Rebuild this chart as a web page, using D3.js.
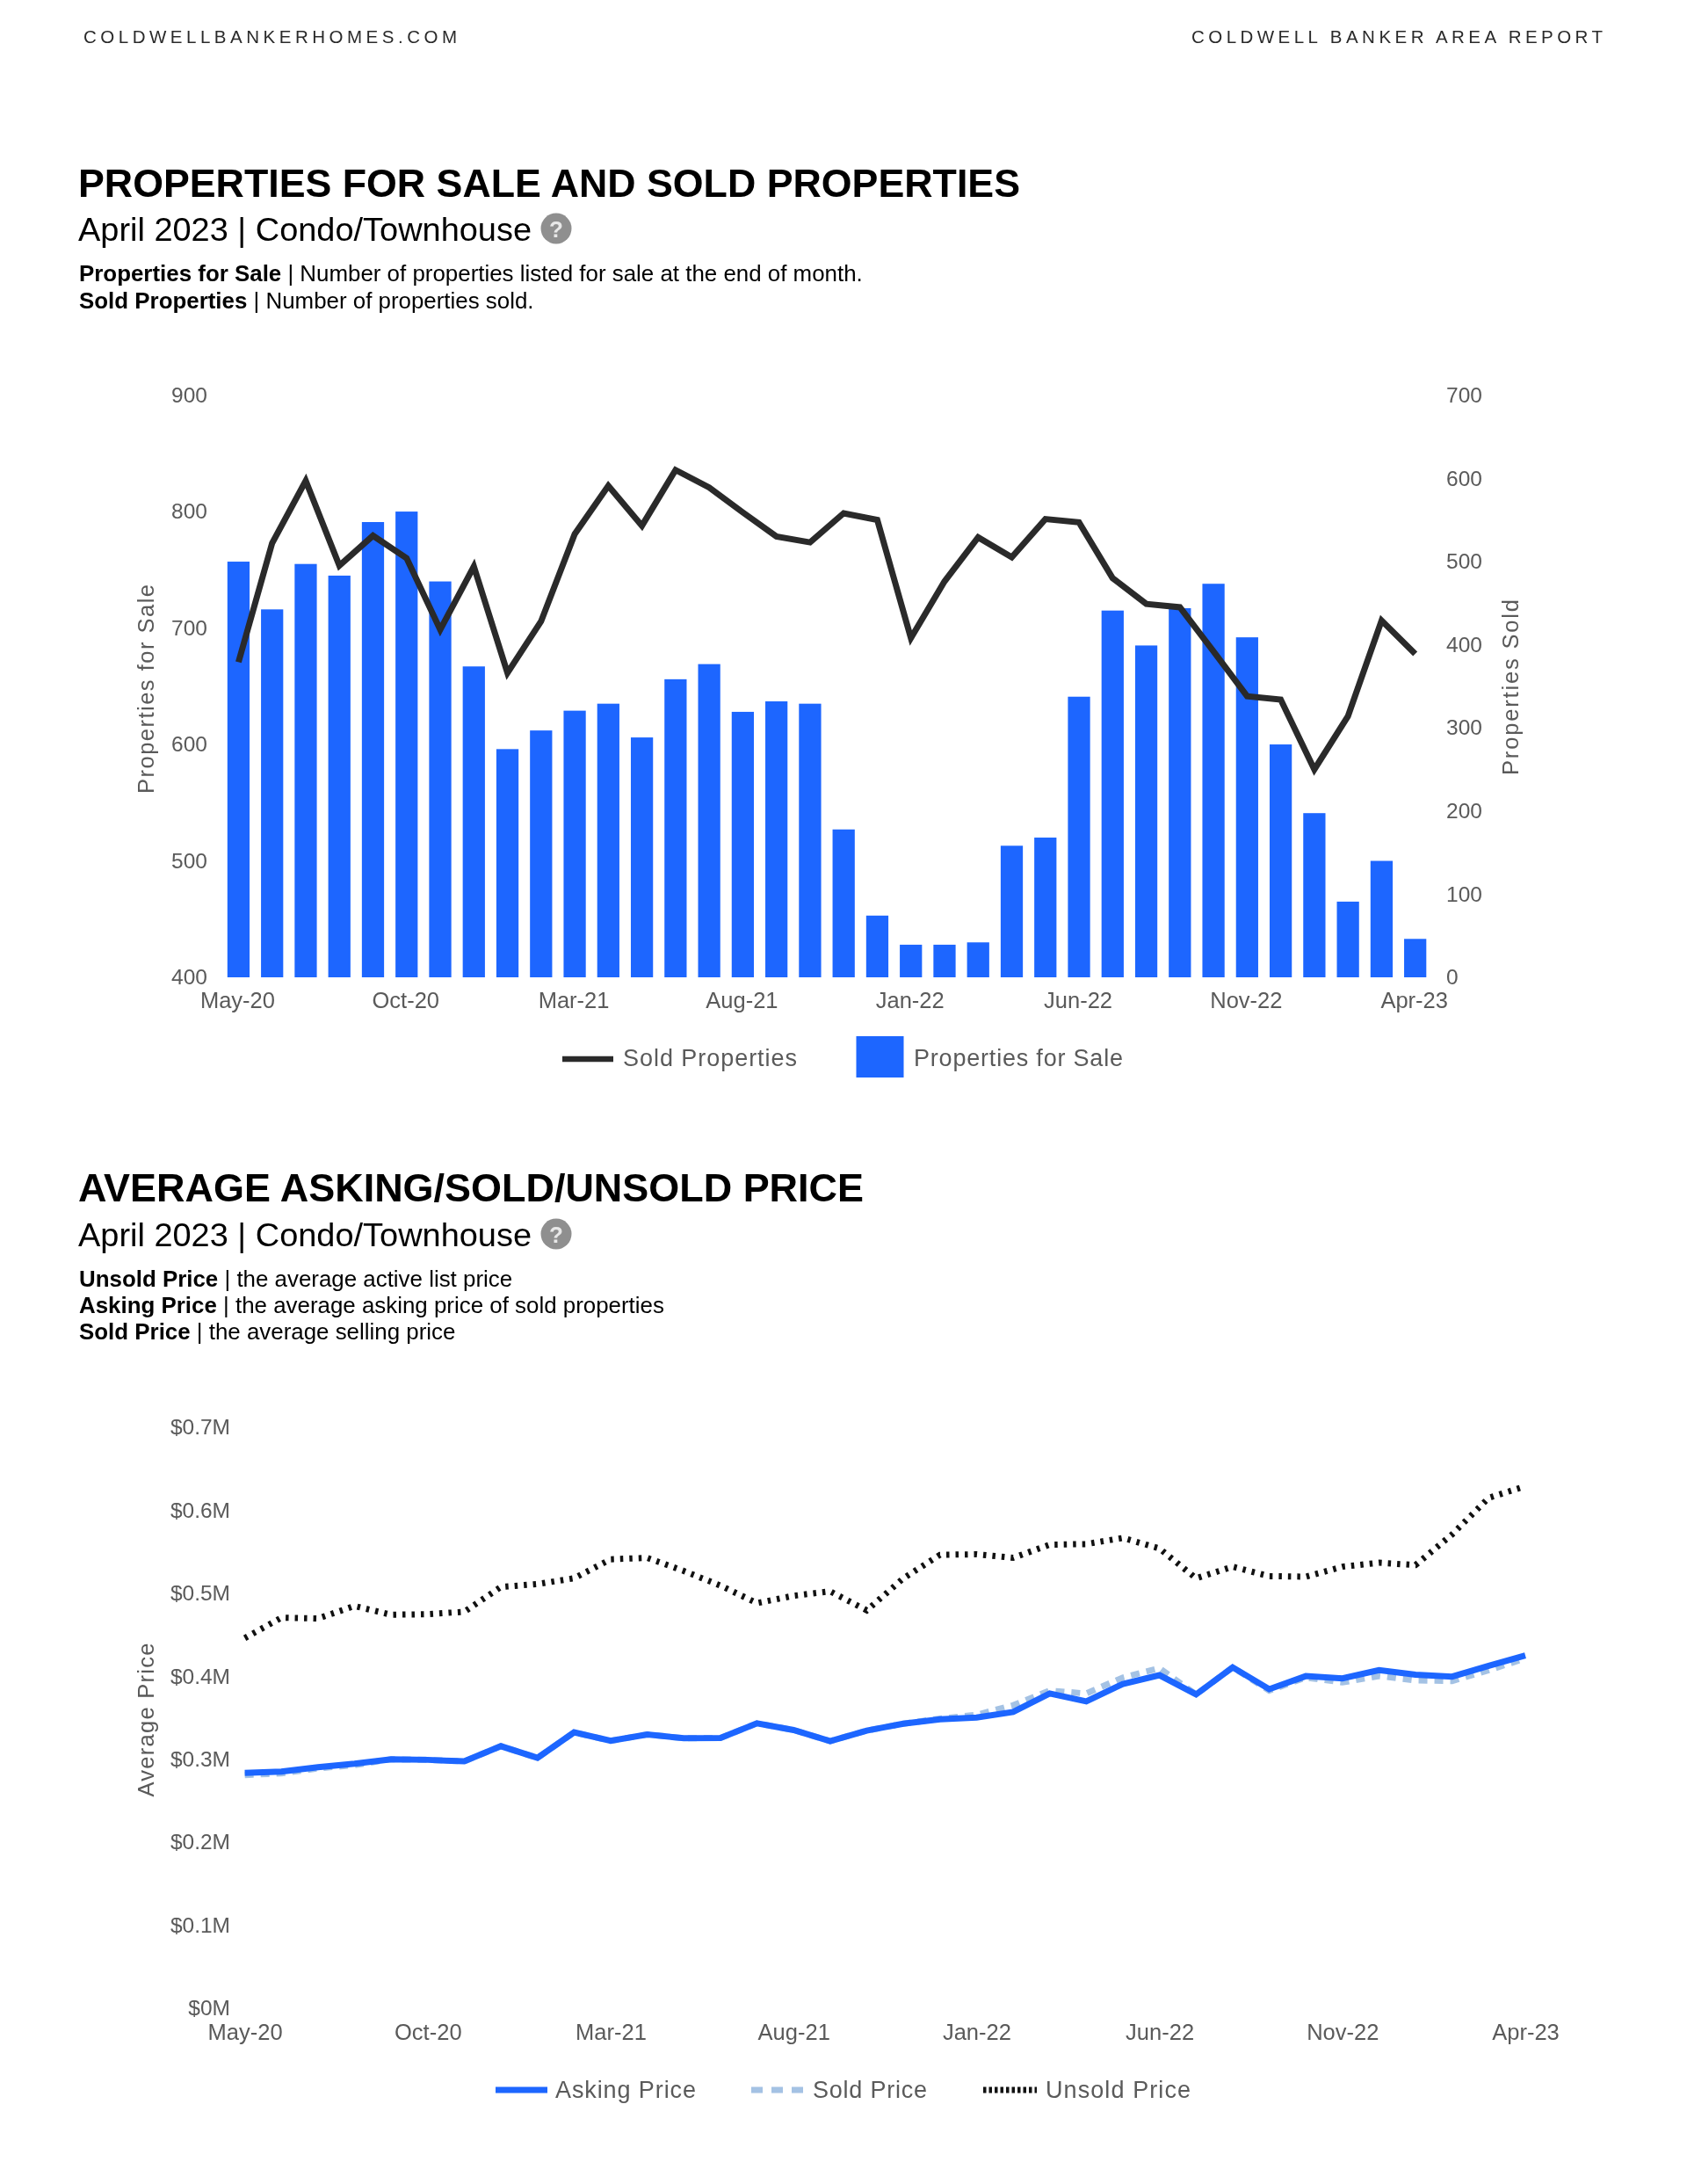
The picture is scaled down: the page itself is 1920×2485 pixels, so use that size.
<!DOCTYPE html>
<html><head><meta charset="utf-8">
<script src="https://cdn.jsdelivr.net/npm/d3@7"></script>
<style>
html,body{margin:0;padding:0;background:#fff}
svg{display:block;filter:blur(0.4px)}
text{font-family:"Liberation Sans",Arial,sans-serif}
.tick text{fill:#5a5a5a;font-size:24.5px}
.xaxis .tick text{font-size:25.5px}
</style></head><body>
<svg id="c" width="1920" height="2485"></svg>
<script>
const months=["May-20","Jun-20","Jul-20","Aug-20","Sep-20","Oct-20","Nov-20","Dec-20","Jan-21","Feb-21","Mar-21","Apr-21","May-21","Jun-21","Jul-21","Aug-21","Sep-21","Oct-21","Nov-21","Dec-21","Jan-22","Feb-22","Mar-22","Apr-22","May-22","Jun-22","Jul-22","Aug-22","Sep-22","Oct-22","Nov-22","Dec-22","Jan-23","Feb-23","Mar-23","Apr-23"];
const tickMonths=["May-20","Oct-20","Mar-21","Aug-21","Jan-22","Jun-22","Nov-22","Apr-23"];
const propertiesForSale=[757,716,755,745,791,800,740,667,596,612,629,635,606,656,669,628,637,635,527,453,428,428,430,513,520,641,715,685,717,738,692,600,541,465,500,433];
const soldProperties=[379,522,597,495,531,504,418,494,366,428,533,591,543,610,589,559,530,523,558,550,408,476,529,505,551,547,480,449,445,392,338,334,250,314,429,389];
const askingPrice=[.2835,.2852,.2905,.2947,.3,.2993,.2975,.3158,.3017,.3324,.3222,.3299,.3253,.3257,.3433,.3352,.3218,.3345,.3429,.3482,.3503,.357,.3792,.3697,.3908,.4013,.3781,.4108,.3844,.4002,.3974,.4073,.402,.3996,.4126,.425];
const soldPrice=[.281,.283,.289,.293,.3,.2993,.2975,.3158,.3017,.3324,.3222,.3299,.3253,.3257,.3433,.3352,.3218,.3345,.3429,.349,.3535,.365,.3827,.3792,.3985,.4098,.378,.4108,.3827,.3985,.3926,.4003,.395,.3943,.4073,.4215];
const unsoldPrice=[.446,.4706,.4696,.4847,.4741,.4748,.4777,.5076,.5111,.5181,.541,.5427,.5269,.5093,.4882,.497,.5023,.4794,.518,.5463,.547,.5427,.5586,.5593,.5667,.554,.518,.532,.5206,.52,.532,.5368,.534,.571,.615,.629];
const leftTicks=[400,500,600,700,800,900];
const rightTicks=[0,100,200,300,400,500,600,700];
const priceTicks=[0,.1,.2,.3,.4,.5,.6,.7];

const BLUE="#1d66ff",GREY="#5a5a5a";
const svg=d3.select("#c");
function txt(x,y,s,o={}){
  const t=svg.append("text").attr("x",x).attr("y",y).attr("dominant-baseline","central").text(s)
    .attr("font-size",o.size||24).attr("fill",o.fill||"#000").attr("font-weight",o.bold?"bold":null);
  if(o.len)t.attr("textLength",o.len).attr("lengthAdjust",o.adj||"spacing");
  if(o.rot!=null)t.attr("text-anchor","middle").attr("transform",`rotate(${o.rot} ${x} ${y})`);
  return t;
}
function desc(y,b,r){
  const t=svg.append("text").attr("x",90).attr("y",y).attr("dominant-baseline","central").attr("font-size",25.9);
  t.append("tspan").attr("font-weight","bold").text(b);
  t.append("tspan").text(" | "+r);
}
function help(x,y){
  svg.append("circle").attr("cx",x).attr("cy",y).attr("r",17.5).attr("fill","#8f8f8f");
  svg.append("text").attr("x",x).attr("y",y+1).attr("text-anchor","middle").attr("dominant-baseline","central")
    .attr("font-size",26).attr("font-weight","bold").attr("fill","#e8e8e8").text("?");
}
// header
txt(95,41.5,"COLDWELLBANKERHOMES.COM",{size:20.5,fill:"#2a2a2a",len:425});
txt(1356,41.5,"COLDWELL BANKER AREA REPORT",{size:20.5,fill:"#2a2a2a",len:468});

// section 1 text
txt(89,208,"PROPERTIES FOR SALE AND SOLD PROPERTIES",{size:44.5,bold:true,len:1072,adj:"spacingAndGlyphs"});
txt(89,261,"April 2023 | Condo/Townhouse",{size:37,len:516,adj:"spacingAndGlyphs"});
help(633,260);
desc(311,"Properties for Sale","Number of properties listed for sale at the end of month.");
desc(342,"Sold Properties","Number of properties sold.");

// chart 1
const x1=d3.scaleBand().domain(months).range([252.3,1629.8]).paddingInner(.34).paddingOuter(.17);
const yL=d3.scaleLinear().domain([400,900]).range([1112,449.6]);
const yR=d3.scaleLinear().domain([0,700]).range([1112,449.6]);
svg.append("g").selectAll("rect").data(months).join("rect")
  .attr("x",d=>x1(d)).attr("width",x1.bandwidth())
  .attr("y",(d,i)=>yL(propertiesForSale[i])).attr("height",(d,i)=>yL(400)-yL(propertiesForSale[i])).attr("fill",BLUE);
svg.append("path").attr("fill","none").attr("stroke","#2a2a2a").attr("stroke-width",7).attr("stroke-linejoin","miter")
  .attr("d",d3.line().x((d,i)=>x1(months[i])+x1.bandwidth()/2).y(d=>yR(d))(soldProperties));
const clean=g=>{g.select(".domain").remove();g.selectAll("line").remove();};
svg.append("g").attr("transform","translate(236,0)").call(d3.axisLeft(yL).tickValues(leftTicks).tickSize(0).tickPadding(0)).call(clean);
svg.append("g").attr("transform","translate(1646,0)").call(d3.axisRight(yR).tickValues(rightTicks).tickSize(0).tickPadding(0)).call(clean);
svg.append("g").attr("class","xaxis").attr("transform","translate(-1,1129)").call(d3.axisBottom(x1).tickValues(tickMonths).tickSize(0).tickPadding(0)).call(clean);
txt(166,784,"Properties for Sale",{size:25.5,fill:GREY,rot:-90,len:238});
txt(1719,782,"Properties Sold",{size:25.5,fill:GREY,rot:-90,len:200});
svg.append("line").attr("x1",640).attr("x2",698).attr("y1",1205).attr("y2",1205).attr("stroke","#2a2a2a").attr("stroke-width",6.5);
txt(709,1204,"Sold Properties",{size:27,fill:GREY,len:198});
svg.append("rect").attr("x",974.5).attr("y",1179).attr("width",54).attr("height",47).attr("fill",BLUE);
txt(1040,1204,"Properties for Sale",{size:27,fill:GREY,len:238});

// section 2 text
txt(89,1351,"AVERAGE ASKING/SOLD/UNSOLD PRICE",{size:44.5,bold:true,len:894,adj:"spacingAndGlyphs"});
txt(89,1405,"April 2023 | Condo/Townhouse",{size:37,len:516,adj:"spacingAndGlyphs"});
help(633,1404);
desc(1455,"Unsold Price","the average active list price");
desc(1485,"Asking Price","the average asking price of sold properties");
desc(1515,"Sold Price","the average selling price");

// chart 2
const x2=d3.scalePoint().domain(months).range([278.6,1736]);
const yP=d3.scaleLinear().domain([0,.7]).range([2285,1624]);
const lineP=d3.line().x((d,i)=>x2(months[i])).y(d=>yP(d));
svg.append("path").attr("fill","none").attr("stroke","#a4c2e4").attr("stroke-width",7).attr("stroke-dasharray","10 8").attr("d",lineP(soldPrice));
svg.append("path").attr("fill","none").attr("stroke",BLUE).attr("stroke-width",7).attr("d",lineP(askingPrice));
svg.append("path").attr("fill","none").attr("stroke","#111").attr("stroke-width",7).attr("stroke-dasharray","3.5 7").attr("d",lineP(unsoldPrice));
svg.append("g").attr("transform","translate(262,0)").call(d3.axisLeft(yP).tickValues(priceTicks).tickSize(0).tickPadding(0).tickFormat(d=>d===0?"$0M":"$"+d3.format(".1f")(d)+"M")).call(clean);
svg.append("g").attr("class","xaxis").attr("transform","translate(0,2303)").call(d3.axisBottom(x2).tickValues(tickMonths).tickSize(0).tickPadding(0)).call(clean);
txt(166,1957,"Average Price",{size:25.5,fill:GREY,rot:-90,len:175});
svg.append("line").attr("x1",564).attr("x2",623).attr("y1",2378).attr("y2",2378).attr("stroke",BLUE).attr("stroke-width",7);
txt(632,2378,"Asking Price",{size:27,fill:GREY,len:160});
svg.append("line").attr("x1",855).attr("x2",916).attr("y1",2378).attr("y2",2378).attr("stroke","#a4c2e4").attr("stroke-width",7).attr("stroke-dasharray","13 10");
txt(925,2378,"Sold Price",{size:27,fill:GREY,len:130});
svg.append("line").attr("x1",1119).attr("x2",1180).attr("y1",2378).attr("y2",2378).attr("stroke","#111").attr("stroke-width",7).attr("stroke-dasharray","3.5 3");
txt(1190,2378,"Unsold Price",{size:27,fill:GREY,len:165});
</script></body></html>
